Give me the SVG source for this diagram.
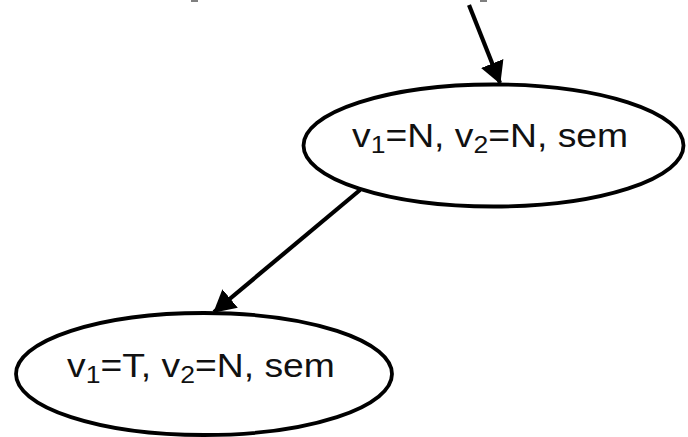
<svg xmlns="http://www.w3.org/2000/svg" width="688" height="437" viewBox="0 0 688 437">
<style>
.node{fill:#fff;stroke:#000;stroke-width:3.8}
.lbl{font-family:"Liberation Sans",Arial,sans-serif;font-size:33px;fill:#111}
.sub{font-size:23.5px}
.edge{stroke:#000;stroke-width:4.2;fill:none;marker-end:url(#ah)}
.frag{fill:#808080}
</style>
<defs>
<marker id="ah" markerUnits="userSpaceOnUse" markerWidth="22" markerHeight="24" viewBox="0 0 22 24" refX="21" refY="12" orient="auto">
<path d="M0,0 L22,12 L0,24 z" fill="#000"/>
</marker>
</defs>
<rect class="frag" x="191" y="0" width="7" height="2"/>
<rect class="frag" x="480" y="0" width="7" height="2"/>
<g id="n1">
<ellipse class="node" cx="493.5" cy="145.5" rx="190" ry="61"/>
<text class="lbl" transform="translate(352,147) scale(1.13,1)">v<tspan class="sub" dy="6">1</tspan><tspan dy="-6">=N, v</tspan><tspan class="sub" dy="6">2</tspan><tspan dy="-6">=N, sem</tspan></text>
</g>
<g id="n2">
<ellipse class="node" cx="204" cy="374" rx="188" ry="61"/>
<text class="lbl" transform="translate(67,377) scale(1.13,1)">v<tspan class="sub" dy="6">1</tspan><tspan dy="-6">=T, v</tspan><tspan class="sub" dy="6">2</tspan><tspan dy="-6">=N, sem</tspan></text>
</g>
<g id="edges">
<line class="edge" x1="469" y1="5" x2="500" y2="83"/>
<line class="edge" x1="360" y1="190" x2="214" y2="312"/>
</g>
</svg>
